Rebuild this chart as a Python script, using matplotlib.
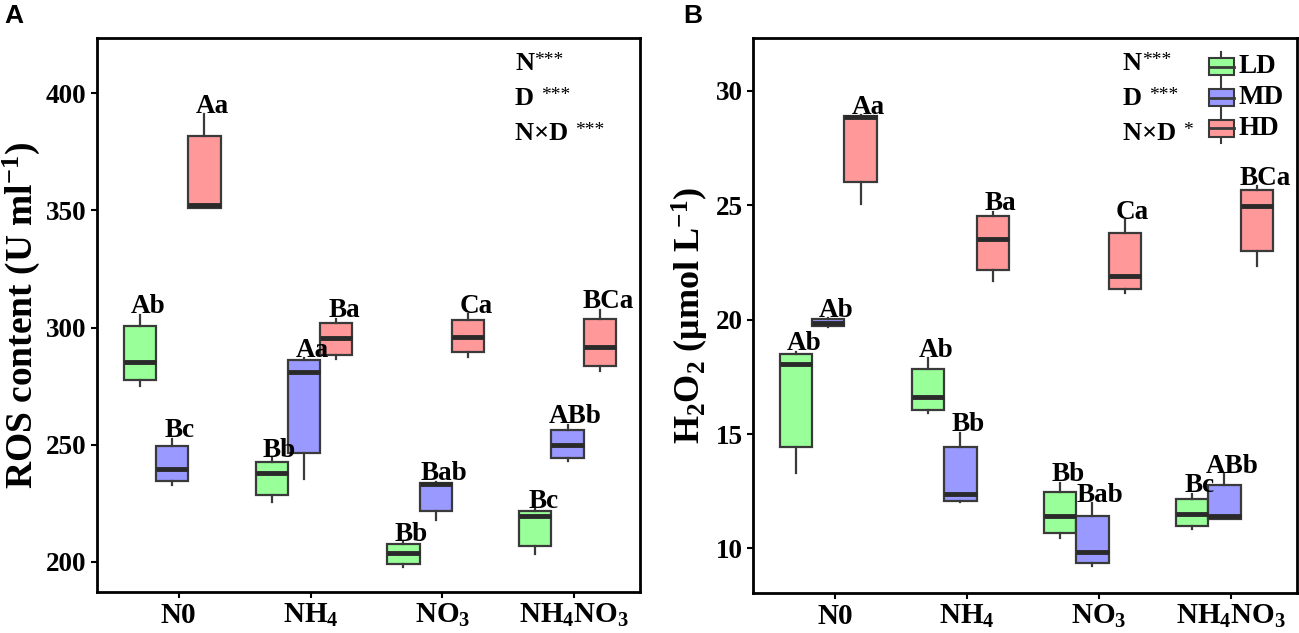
import numpy as np
import matplotlib
matplotlib.use("Agg")
import matplotlib.pyplot as plt
from matplotlib.patches import Rectangle
from matplotlib.lines import Line2D
from matplotlib.legend_handler import HandlerBase

plt.rcParams['font.family'] = ['Liberation Serif', 'DejaVu Serif']
plt.rcParams['font.weight'] = 'bold'
plt.rcParams['mathtext.default'] = 'regular'

groups = ["N0", "NH$_4$", "NO$_3$", "NH$_4$NO$_3$"]
series = ["LD", "MD", "HD"]
colors = ["#99FF99", "#9999FF", "#FF9999"]

# five numbers per group: (whisker low, q1, median, q3, whisker high)
ros_ld = [(275.0, 277.7, 285.4, 300.7, 305.5), (225.6, 228.5, 237.8, 242.8, 244.3),
          (197.8, 199.0, 203.8, 207.5, 208.4), (203.2, 206.7, 219.6, 221.6, 222.5)]
ros_md = [(232.8, 234.7, 239.7, 249.3, 252.6), (235.4, 246.6, 281.0, 286.0, 287.0),
          (217.8, 221.6, 233.3, 233.8, 234.2), (243.1, 244.5, 250.0, 256.5, 258.6)]
ros_hd = [(351.0, 351.0, 352.2, 381.6, 391.0), (286.6, 288.3, 295.7, 302.0, 303.8),
          (287.5, 289.5, 295.9, 303.3, 305.8), (281.4, 283.5, 291.8, 303.8, 307.6)]
ros_letters = [["Ab", "Bb", "Bb", "Bc"],
               ["Bc", "Aa", "Bab", "ABb"],
               ["Aa", "Ba", "Ca", "BCa"]]

h2o2_ld = [(13.3, 14.42, 18.08, 18.5, 18.6), (15.93, 16.05, 16.63, 17.85, 18.32),
           (10.46, 10.68, 11.4, 12.48, 12.88), (10.86, 10.99, 11.49, 12.14, 12.4)]
h2o2_md = [(19.69, 19.74, 19.86, 20.03, 20.07), (12.02, 12.09, 12.36, 14.45, 15.05),
           (9.23, 9.35, 9.86, 11.44, 11.98), (11.28, 11.28, 11.4, 12.77, 13.25)]
h2o2_hd = [(25.05, 26.03, 28.86, 28.9, 28.93), (21.67, 22.16, 23.53, 24.52, 24.72),
           (21.17, 21.34, 21.91, 23.8, 24.35), (22.34, 23.01, 24.97, 25.64, 25.83)]
h2o2_letters = [["Ab", "Ab", "Bb", "Bc"],
                ["Ab", "Bb", "Bab", "ABb"],
                ["Aa", "Ba", "Ca", "BCa"]]

# ANOVA effects: (factor, stars)
ros_stats = [("N", "***"), ("D ", "***"), ("N×D ", "***")]
h2o2_stats = [("N", "***"), ("D ", "***"), ("N×D ", "*")]

EDGE = "#3a3a3a"
offsets = [-0.295, -0.05, 0.195]
width = 0.245


class BoxHandler(HandlerBase):
    def __init__(self, color):
        super().__init__()
        self.color = color

    def create_artists(self, legend, orig_handle, xd, yd, w, h, fontsize, trans):
        bw = w * 0.9
        x0 = xd + (w - bw) / 2
        cx = x0 + bw / 2
        wh = Line2D([cx, cx], [yd - h * 0.4, yd + h * 1.4], color=EDGE, lw=1.5, transform=trans)
        box = Rectangle((x0, yd), bw, h, facecolor=self.color, edgecolor=EDGE, lw=1.5, transform=trans)
        med = Line2D([x0, x0 + bw], [yd + h / 2, yd + h / 2], color=EDGE, lw=2, transform=trans)
        return [wh, box, med]


def draw_panel(ax, data, letters, stats, ylim, yticks, ylabel, ylabel_size, stats_x):
    base = np.arange(1, len(groups) + 1)
    for s, (vals, col) in enumerate(zip(data, colors)):
        bstats = [dict(whislo=v[0], q1=v[1], med=v[2], q3=v[3], whishi=v[4], fliers=[])
                  for v in vals]
        pos = base + offsets[s]
        ax.bxp(bstats, positions=pos, widths=width, patch_artist=True, showcaps=False,
               boxprops=dict(facecolor=col, edgecolor=EDGE, lw=1.6),
               whiskerprops=dict(color=EDGE, lw=1.6),
               medianprops=dict(color="#2a2a2a", lw=3.5, solid_capstyle='butt'),
               manage_ticks=False)
        for p, v, lab in zip(pos, vals, letters[s]):
            ax.annotate(lab, (p + 0.06, v[4]), xytext=(0, 1), textcoords='offset points',
                        ha='center', va='baseline', fontsize=19.5, fontweight='bold')
    ax.set_xlim(0.38, 4.5)
    ax.set_ylim(*ylim)
    ax.set_yticks(yticks)
    ax.set_xticks(base)
    ax.set_xticklabels(groups)
    ax.tick_params(axis='both', width=1.5, length=4)
    ax.tick_params(axis='y', labelsize=19.5)
    ax.tick_params(axis='x', labelsize=21, pad=3)
    for t in ax.get_xticklabels() + ax.get_yticklabels():
        t.set_fontweight('bold')
    for sp in ax.spines.values():
        sp.set_linewidth(2)
    ax.set_ylabel(ylabel, fontsize=ylabel_size, fontweight='bold', labelpad=3)
    for i, (fac, stars) in enumerate(stats):
        t = ax.text(stats_x, 0.975 - i * 0.063, fac, transform=ax.transAxes, fontsize=19,
                    fontweight='bold', va='top', ha='left')
        ax.annotate(stars, xy=(1, 0.98), xycoords=t, xytext=(0, 0), textcoords='offset points',
                    fontsize=14, fontweight='normal', va='top', ha='left')


fig = plt.figure(figsize=(12.99, 6.33), dpi=100)
axA = fig.add_axes([0.0747, 0.0648, 0.418, 0.875])
axB = fig.add_axes([0.5797, 0.0630, 0.4188, 0.877])

draw_panel(axA, [ros_ld, ros_md, ros_hd], ros_letters, ros_stats, (187.2, 423.5),
           [200, 250, 300, 350, 400], "ROS content (U ml$^{-1}$)", 27, 0.77)
draw_panel(axB, [h2o2_ld, h2o2_md, h2o2_hd], h2o2_letters, h2o2_stats, (8.05, 32.3),
           [10, 15, 20, 25, 30], "H$_2$O$_2$ (μmol L$^{-1}$)", 26, 0.68)

handles = [Rectangle((0, 0), 1, 1) for _ in series]
axB.legend(handles, series, loc='upper right', frameon=False, fontsize=19.5,
           handler_map={h: BoxHandler(c) for h, c in zip(handles, colors)},
           handlelength=1.0, handleheight=0.55, handletextpad=0.12, labelspacing=0.22,
           borderaxespad=0.1, bbox_to_anchor=(1.0, 0.995))

fig.text(0.003, 0.993, "A", fontsize=19, fontweight='bold', family=['Liberation Sans', 'DejaVu Sans'],
         va='top', ha='left')
fig.text(0.526, 0.993, "B", fontsize=19, fontweight='bold', family=['Liberation Sans', 'DejaVu Sans'],
         va='top', ha='left')

fig.savefig("out.png", dpi=100)
